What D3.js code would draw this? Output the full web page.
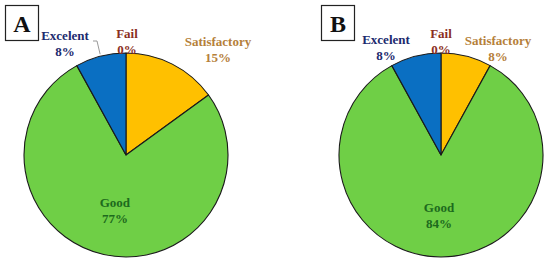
<!DOCTYPE html>
<html>
<head>
<meta charset="utf-8">
<script src="https://cdn.jsdelivr.net/npm/d3@7"></script>
<style>
  body { margin: 0; background: #fff; }
  svg { display: block; }
</style>
</head>
<body>
<svg id="chart"></svg>
<script>
// grades, in drawing order starting at 12 o'clock, clockwise
const categories = ["Fail", "Satisfactory", "Good", "Excelent"];
const valuesA = [0, 15, 77, 8];
const valuesB = [0, 8, 84, 8];
const panelLabels = ["A", "B"];

const colors = {
  Fail: "#c00000",
  Satisfactory: "#ffc000",
  Good: "#6fcf46",
  Excelent: "#0a6fc2"
};
const textColors = {
  Fail: "#8b2f22",
  Satisfactory: "#b5803a",
  Good: "#1d6a1d",
  Excelent: "#1c2a6e"
};

const w = 550, h = 266, r = 102;

const svg = d3.select("#chart")
  .attr("width", w)
  .attr("height", h);

// label block centers relative to pie center (outside labels only)
const labelOffsets = [
  { Fail: [1, -114], Satisfactory: [92, -106], Excelent: [-61, -112], Good: [0, 0] },
  { Fail: [0, -114], Satisfactory: [57, -107], Excelent: [-55, -108], Good: [-2, 4] }
];

const pies = [
  { cx: 126, cy: 155, values: valuesA, box: [5, 5] },
  { cx: 441, cy: 155, values: valuesB, box: [321, 5] }
];

const pie = d3.pie().sort(null).value(d => d.v);
const arc = d3.arc().innerRadius(0).outerRadius(r);

pies.forEach((p, pi) => {
  const data = categories.map((c, i) => ({ c, v: p.values[i] }));
  const g = svg.append("g").attr("transform", `translate(${p.cx},${p.cy})`);

  const arcs = pie(data);

  g.selectAll("path.slice")
    .data(arcs.filter(d => d.data.v > 0))
    .join("path")
    .attr("class", "slice")
    .attr("d", arc)
    .attr("fill", d => colors[d.data.c])
    .attr("stroke", "#1a1a1a")
    .attr("stroke-width", 1.1)
    .attr("stroke-linejoin", "round");

  // labels
  arcs.forEach(d => {
    let x, y;
    if (d.data.c === "Good") {
      const cen = arc.centroid(d);
      const off = labelOffsets[pi].Good;
      x = cen[0] + off[0]; y = cen[1] + 5 + off[1];
    } else {
      [x, y] = labelOffsets[pi][d.data.c];
    }
    const t = g.append("text")
      .attr("x", x)
      .attr("y", y - 3)
      .attr("text-anchor", "middle")
      .attr("font-family", "'Liberation Serif', 'Times New Roman', serif")
      .attr("font-weight", "bold")
      .attr("font-size", 13)
      .attr("fill", textColors[d.data.c]);
    t.append("tspan").attr("x", x).text(d.data.c);
    t.append("tspan").attr("x", x).attr("dy", 16).text(d.data.v + "%");
  });

  // leader line for Excelent in panel A
  if (pi === 0) {
    const ex = arcs.find(d => d.data.c === "Excelent");
    const a = (ex.startAngle + ex.endAngle) / 2;
    const px = Math.sin(a) * r * 1.02, py = -Math.cos(a) * r * 1.02;
    g.append("path")
      .attr("d", `M${-33},${-114}L${-29},${-114}L${px},${py}`)
      .attr("fill", "none")
      .attr("stroke", "#999")
      .attr("stroke-width", 1);
  }

  // panel letter box
  svg.append("rect")
    .attr("x", p.box[0] + 0.5)
    .attr("y", p.box[1] + 0.5)
    .attr("width", 33)
    .attr("height", 35)
    .attr("fill", "#fff")
    .attr("stroke", "#222")
    .attr("stroke-width", 1.2);
  svg.append("text")
    .attr("x", p.box[0] + 17)
    .attr("y", p.box[1] + 27)
    .attr("text-anchor", "middle")
    .attr("font-family", "'Liberation Serif', 'Times New Roman', serif")
    .attr("font-weight", "bold")
    .attr("font-size", 24)
    .attr("fill", "#111")
    .text(panelLabels[pi]);
});
</script>
</body>
</html>
